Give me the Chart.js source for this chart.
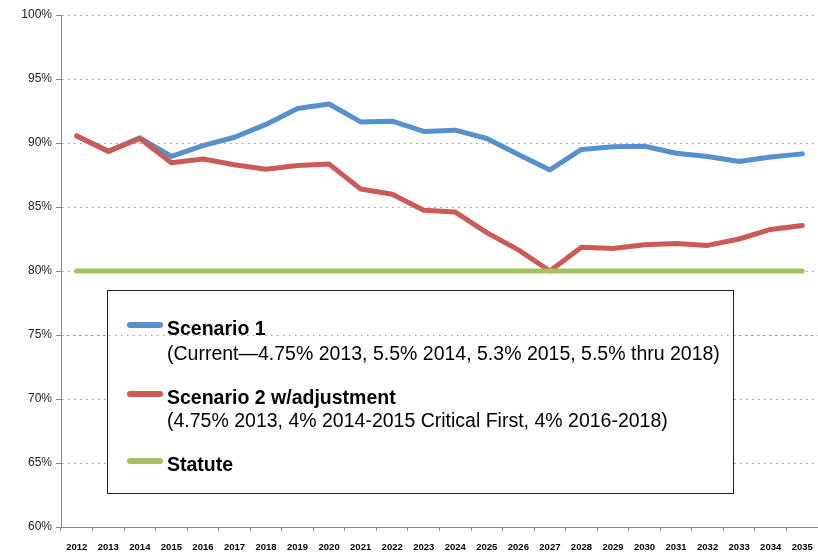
<!DOCTYPE html>
<html>
<head>
<meta charset="utf-8" />
<script src="https://cdn.jsdelivr.net/npm/chart.js@4"></script>
<style>
  body { margin: 0; background: #fff; }
  #wrap { position: relative; width: 818px; height: 553px; }
  #legendBox {
    position: absolute; left: 107px; top: 290px; width: 625px; height: 202px;
    border: 1.5px solid #222; font-family: 'Liberation Sans', Arial, sans-serif; color: #000;
  }
  .sw { position: absolute; left: 19px; width: 36px; height: 6px; border-radius: 3px; }
  .txt { position: absolute; left: 59px; font-size: 19.5px; line-height: 20px; white-space: nowrap; }
  .b { font-weight: bold; }
</style>
</head>
<body>
<div id="wrap">
  <canvas id="chart"></canvas>
  <div id="legendBox">
    <div class="sw" style="top:31px;background:#5591CC"></div>
    <div class="txt b" style="top:27px">Scenario 1</div>
    <div class="txt" style="top:52px">(Current—4.75% 2013, 5.5% 2014, 5.3% 2015, 5.5% thru 2018)</div>
    <div class="sw" style="top:100px;background:#CC5B55"></div>
    <div class="txt b" style="top:96px">Scenario 2 w/adjustment</div>
    <div class="txt" style="top:119px">(4.75% 2013, 4% 2014-2015 Critical First, 4% 2016-2018)</div>
    <div class="sw" style="top:167px;background:#A2C260"></div>
    <div class="txt b" style="top:163px">Statute</div>
  </div>
</div>
<script>
const years = ['2012', '2013', '2014', '2015', '2016', '2017', '2018', '2019', '2020', '2021', '2022', '2023',
  '2024', '2025', '2026', '2027', '2028', '2029', '2030', '2031', '2032', '2033', '2034', '2035'];
const scenario1 = [90.55, 89.35, 90.4, 88.95, 89.8, 90.45, 91.45, 92.7, 93.05, 91.65, 91.7, 90.9,
  91.0, 90.35, 89.1, 87.9, 89.5, 89.7, 89.75, 89.2, 88.95, 88.55, 88.9, 89.15];
const scenario2 = [90.55, 89.35, 90.35, 88.45, 88.75, 88.3, 87.95, 88.25, 88.35, 86.4, 86.0, 84.75,
  84.6, 83.0, 81.65, 80.0, 81.85, 81.75, 82.05, 82.15, 82.0, 82.5, 83.25, 83.55];
const statute = [80, 80, 80, 80, 80, 80, 80, 80, 80, 80, 80, 80,
  80, 80, 80, 80, 80, 80, 80, 80, 80, 80, 80, 80];

const FONT = "'Liberation Sans', Arial, sans-serif";
const GRID_DOTS = [1.5, 4.5];

// white fill behind the legend box; the 75% gridline still shows through it
const legendBackdrop = {
  id: 'legendBackdrop',
  beforeDatasetsDraw(chart) {
    const { ctx, chartArea } = chart;
    const y75 = chart.scales.y.getPixelForValue(75);
    ctx.save();
    ctx.fillStyle = '#fff';
    ctx.fillRect(108, 291, 626, 203);
    ctx.strokeStyle = '#999';
    ctx.lineWidth = 1;
    ctx.setLineDash(GRID_DOTS);
    ctx.beginPath();
    ctx.moveTo(chartArea.left, Math.round(y75) + 0.5);
    ctx.lineTo(chartArea.right, Math.round(y75) + 0.5);
    ctx.stroke();
    ctx.restore();
  }
};

function line(label, data, color, order) {
  return {
    label, data, order,
    borderColor: color,
    backgroundColor: color,
    borderWidth: 5,
    pointRadius: 0,
    borderJoinStyle: 'round',
    borderCapStyle: 'round',
    tension: 0,
    clip: false
  };
}

new Chart(document.getElementById('chart'), {
  type: 'line',
  data: {
    labels: years,
    datasets: [
      line('Scenario 1', scenario1, '#5591CC', 2),
      line('Scenario 2 w/adjustment', scenario2, '#CC5B55', 1),
      line('Statute', statute, '#A2C260', 0)
    ]
  },
  options: {
    responsive: true,
    maintainAspectRatio: false,
    animation: false,
    layout: { padding: { top: 15, right: -1, left: 0, bottom: 0 } },
    plugins: { legend: { display: false }, tooltip: { enabled: false } },
    scales: {
      x: {
        offset: true,
        afterFit: (scale) => {
          scale.height = 26;
          scale.paddingLeft = 0;
          scale.paddingRight = 0;
        },
        grid: { drawOnChartArea: false, tickLength: 4, tickColor: '#888', offset: true },
        border: { color: '#888', width: 1 },
        ticks: { color: '#000', font: { family: FONT, size: 9.5, weight: 'bold' }, maxRotation: 0, autoSkip: false, padding: 11 }
      },
      y: {
        min: 60,
        max: 100,
        afterFit: (scale) => { scale.width = 61; },
        grid: { color: '#999', tickLength: 5, tickColor: '#888', tickBorderDash: [] },
        border: { color: '#888', width: 1, dash: GRID_DOTS },
        ticks: { stepSize: 5, color: '#222', padding: 4, font: { family: FONT, size: 12 }, callback: (v) => v + '%' }
      }
    }
  },
  plugins: [legendBackdrop]
});
</script>
</body>
</html>
